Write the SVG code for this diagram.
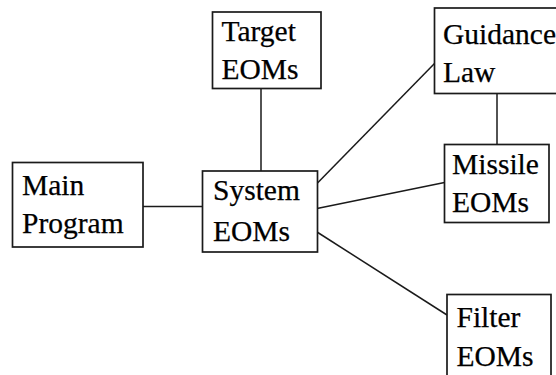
<svg xmlns="http://www.w3.org/2000/svg" width="556" height="375" viewBox="0 0 556 375">
<style>
.box{fill:#fff;stroke:#1a1a1a;stroke-width:1.7}
.edge{stroke:#1a1a1a;stroke-width:1.5;fill:none}
</style>
<rect width="556" height="375" fill="#fff"/>
<g id="connectors">
<line class="edge" x1="143" y1="206.5" x2="202.5" y2="206.5"/>
<line class="edge" x1="261" y1="88" x2="261" y2="171"/>
<line class="edge" x1="317" y1="183.5" x2="434.5" y2="63.5"/>
<line class="edge" x1="317" y1="208.5" x2="444.5" y2="182.5"/>
<line class="edge" x1="317" y1="232" x2="447" y2="315"/>
<line class="edge" x1="497" y1="93.5" x2="497" y2="144.5"/>
</g>
<g id="nodes" font-family="Liberation Serif, Times New Roman, serif" font-size="29.5" fill="#000" stroke="#000" stroke-width="0.25">
<g id="main">
<rect class="box" x="12.5" y="162.5" width="130.5" height="84.5"/>
<text x="22" y="195">Main</text>
<text x="22" y="233">Program</text>
</g>
<g id="target">
<rect class="box" x="212.5" y="12" width="108.5" height="76.5"/>
<text x="221.5" y="40.5">Target</text>
<text x="221.5" y="78.5">EOMs</text>
</g>
<g id="system">
<rect class="box" x="202.5" y="171" width="115" height="81"/>
<text x="213" y="200">System</text>
<text x="213" y="241">EOMs</text>
</g>
<g id="guidance">
<rect class="box" x="434.5" y="8" width="130" height="85.5"/>
<text x="443" y="43.5">Guidance</text>
<text x="443" y="82">Law</text>
</g>
<g id="missile">
<rect class="box" x="444.5" y="144.5" width="104.5" height="78"/>
<text x="452" y="173.5">Missile</text>
<text x="452" y="212">EOMs</text>
</g>
<g id="filter">
<rect class="box" x="447" y="294.5" width="104" height="90"/>
<text x="456.5" y="327">Filter</text>
<text x="456.5" y="366">EOMs</text>
</g>
</g>
</svg>
